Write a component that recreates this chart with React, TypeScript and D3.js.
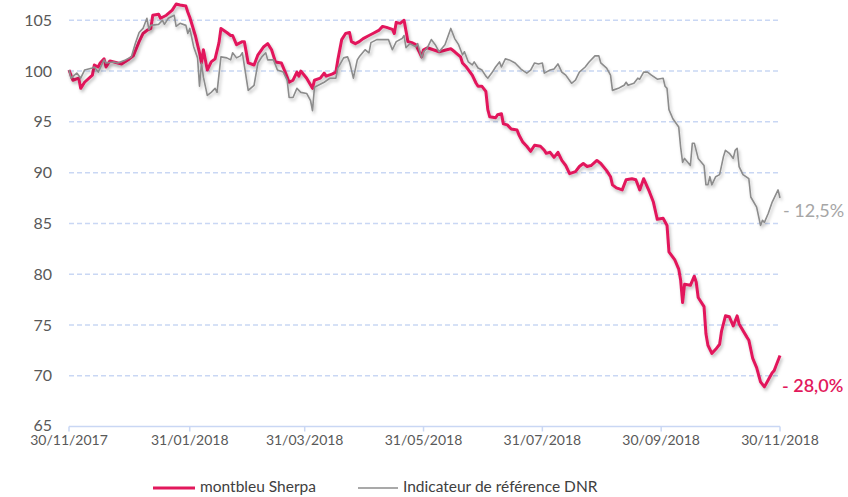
import React from "react";
import * as d3 from "d3";

// Days since 30/11/2017 and values
const sherpaDays = [0,2,5,6,8,12,13,15,16,18,19,21,25,27,31,33,36,38,40,42,43,46,47,50,53,55,57,60,61,62,65,67,68,69,71,73,75,77,78,81,83,84,86,89,90,92,95,97,100,102,104,106,109,111,113,115,117,118,119,122,125,126,129,131,132,135,137,138,140,142,144,145,147,149,151,154,156,159,161,163,166,167,168,170,172,174,176,178,181,182,184,187,190,194,196,198,201,202,204,207,209,210,212,214,215,216,219,220,222,223,225,227,230,231,233,235,237,239,242,244,245,247,249,251,253,255,257,260,262,264,266,268,271,273,276,278,279,281,284,286,289,291,293,295,298,300,302,305,307,308,311,313,314,315,316,319,321,322,323,326,327,328,330,332,334,335,337,339,341,343,344,348,349,351,353,355,357,359,361,362,363,365];
const sherpaValues = [100.1,99.1,99.3,98.3,98.9,99.6,100.6,100.4,100.8,101.2,100.4,101.0,100.8,100.7,101.2,101.5,102.9,103.7,104.0,104.2,105.5,105.6,105.2,105.5,106.0,106.6,106.5,106.4,105.8,105.3,103.4,101.8,100.8,102.1,100.1,100.9,101.2,102.8,104.2,103.8,103.5,103.5,102.6,102.9,102.9,100.8,100.6,101.6,102.4,102.7,102.1,100.9,100.8,99.9,98.9,99.1,99.9,99.5,100.0,99.3,98.3,99.1,99.3,99.8,99.5,99.7,99.9,101.1,103.1,103.7,103.8,102.9,102.7,102.9,103.2,103.5,103.7,104.0,104.4,104.3,104.1,103.7,104.8,104.7,105.0,102.9,102.8,102.6,101.4,102.1,102.3,102.1,101.9,102.1,102.2,101.9,101.4,100.8,100.4,99.6,98.8,98.5,98.5,98.0,96.2,95.5,95.4,95.7,95.8,94.8,94.7,94.3,94.2,93.7,93.0,92.6,92.1,92.7,92.6,92.2,91.9,92.0,91.5,92.0,91.2,90.7,89.9,90.1,90.6,90.9,90.6,90.7,91.2,90.9,90.2,89.6,88.8,88.5,88.3,89.3,89.4,89.3,88.3,89.4,88.1,87.1,85.4,85.5,84.8,82.2,81.4,80.5,79.4,77.2,79.0,78.9,79.8,79.2,77.7,76.8,74.1,73.0,72.2,72.6,73.1,74.4,75.9,75.8,74.9,75.9,75.1,73.8,73.5,71.7,70.8,69.4,68.9,69.6,70.3,70.5,71.0,72.0];

const dnrDays = [0,1,4,6,8,12,13,15,18,19,23,25,29,32,34,36,38,40,41,42,46,48,49,51,54,55,57,60,61,62,64,66,67,68,69,71,73,75,76,78,81,83,84,86,88,89,92,95,97,99,101,102,105,107,110,112,113,115,117,119,122,124,125,126,128,130,131,134,137,138,141,143,144,146,148,149,152,154,155,158,161,164,166,168,171,172,173,175,178,179,181,182,184,186,188,190,193,196,198,200,202,203,205,207,208,210,212,214,215,217,219,221,222,224,226,229,232,235,237,239,241,243,244,247,249,251,253,255,258,260,262,265,267,270,272,273,276,278,279,282,284,285,286,287,290,292,293,295,297,299,302,305,306,307,308,310,313,314,315,316,319,320,321,323,326,327,328,329,330,332,334,336,337,339,341,342,343,344,346,349,350,353,355,356,357,359,361,364,365];
const dnrValues = [100.1,99.3,99.8,99.3,100.1,100.3,100.4,99.9,101.1,100.8,100.9,100.8,101.1,101.4,102.7,103.8,104.2,105.2,104.1,104.5,104.6,105.0,104.6,105.2,105.5,104.4,104.7,104.5,103.7,104.2,102.4,101.3,98.5,100.8,99.4,97.6,97.9,98.3,97.9,101.4,101.3,101.1,101.8,101.3,101.5,101.8,98.1,98.6,100.8,101.4,101.8,101.1,101.1,100.1,99.9,99.1,97.4,97.4,98.3,97.9,97.8,97.1,96.1,98.4,98.6,98.8,98.9,99.3,99.3,100.3,101.3,101.4,100.9,99.3,101.1,101.4,102.1,101.8,102.8,103.1,103.1,103.1,102.1,102.9,103.2,103.5,102.3,102.7,102.4,102.7,101.3,101.9,102.3,103.1,102.6,101.9,102.6,104.2,103.2,102.6,101.6,101.9,100.9,100.6,100.9,100.3,100.1,99.5,99.3,99.8,100.4,100.9,100.4,101.2,101.1,100.8,100.2,99.8,100.1,100.8,100.7,100.8,99.8,100.1,100.2,100.7,99.9,99.6,98.8,99.1,99.9,100.4,100.9,101.5,101.5,100.8,100.3,99.6,98.1,98.3,98.5,98.6,98.9,98.6,98.8,99.3,99.2,99.9,99.9,99.6,99.2,99.3,98.5,98.3,96.2,95.3,94.5,92.5,91.0,91.4,90.7,92.9,92.9,91.4,90.7,88.8,88.8,89.6,88.8,89.6,89.8,91.6,92.2,91.9,91.4,92.2,92.4,90.6,89.8,89.4,87.6,86.6,84.8,85.3,85.1,86.0,87.1,88.3,87.5];

const yTicks = [65, 70, 75, 80, 85, 90, 95, 100, 105];
const xTickLabels = ["30/11/2017", "31/01/2018", "31/03/2018", "31/05/2018", "31/07/2018", "30/09/2018", "30/11/2018"];
const seriesNames = ["montbleu Sherpa", "Indicateur de référence DNR"];
const endLabels = ["- 28,0%", "- 12,5%"];

const W = 848, H = 497;
const RED = "#e2185c";
const GRAY = "#8c8c8c";
const FONT = "Lato, 'Open Sans', sans-serif";

const parse = d3.timeParse("%d/%m/%Y");
const start = parse("30/11/2017") as Date;

export default function App() {
  const x = d3.scaleTime().domain([start, parse("30/11/2018") as Date]).range([69, 780]);
  const y = d3.scaleLinear().domain([65, 105]).range([426.5, 20.3]);

  const toPts = (days: number[], vals: number[]) =>
    days.map((d, i) => ({ date: d3.timeDay.offset(start, d), v: vals[i] }));
  const sherpa = toPts(sherpaDays, sherpaValues);
  const dnr = toPts(dnrDays, dnrValues);

  const line = d3.line<{ date: Date; v: number }>().x(p => x(p.date)).y(p => y(p.v));

  const lastS = sherpa[sherpa.length - 1];
  const lastD = dnr[dnr.length - 1];

  return (
    <svg width={W} height={H} style={{ position: "absolute", left: 0, top: 0, background: "#fff" }} fontFamily={FONT}>
      <defs>
        <filter id="sh" x="-5%" y="-5%" width="110%" height="120%">
          <feDropShadow dx="1.5" dy="2.5" stdDeviation="1.5" floodColor="#000" floodOpacity="0.25" />
        </filter>
      </defs>
      {/* gridlines */}
      {yTicks.filter(t => t > 65).map(t => (
        <line key={t} x1={69} x2={780} y1={y(t)} y2={y(t)} stroke="#c9d7f4" strokeWidth={1.5} strokeDasharray="5,3" />
      ))}
      {/* x axis */}
      <line x1={69} x2={780} y1={y(65)} y2={y(65)} stroke="#c9d7f4" strokeWidth={1.5} />
      {xTickLabels.map(l => {
        const xx = x(parse(l) as Date);
        return (
          <g key={l}>
            <line x1={xx} x2={xx} y1={y(65)} y2={y(65) + 5} stroke="#c9d7f4" strokeWidth={1.5} />
            <text x={xx} y={445} textAnchor="middle" fontSize={14} fill="#595959">{l}</text>
          </g>
        );
      })}
      {/* y tick labels */}
      {yTicks.map(t => (
        <text key={t} x={52} y={y(t) - (t === 65 ? 1 : 0)} dy="0.35em" textAnchor="end" fontSize={16} fill="#595959">{t}</text>
      ))}
      {/* lines */}
      <path d={line(sherpa) || ""} fill="none" stroke={RED} strokeWidth={3} strokeLinejoin="round" filter="url(#sh)" />
      <path d={line(dnr) || ""} fill="none" stroke={GRAY} strokeWidth={1.6} strokeLinejoin="round" filter="url(#sh)" />
      {/* end labels */}
      <text x={782} y={y(lastS.v) + 30} dy="0.35em" fontSize={18} fill={RED} fontWeight={600}>{endLabels[0]}</text>
      <text x={783} y={y(lastD.v) + 13} dy="0.35em" fontSize={18} fill="#a6a6a6">{endLabels[1]}</text>
      {/* legend */}
      <line x1={153} x2={195} y1={488} y2={488} stroke={RED} strokeWidth={3} />
      <text x={200} y={492} fontSize={15.5} fill="#404040">{seriesNames[0]}</text>
      <line x1={358} x2={398} y1={488} y2={488} stroke={GRAY} strokeWidth={1.6} />
      <text x={403} y={492} fontSize={15.5} fill="#404040">{seriesNames[1]}</text>
    </svg>
  );
}
